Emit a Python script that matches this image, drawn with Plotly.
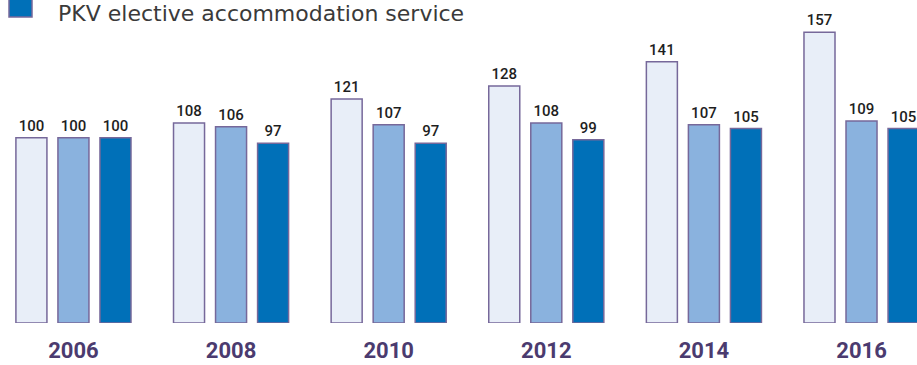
import plotly.graph_objects as go

# Index values (2006 = 100) per year for the three series
years = ["2006", "2008", "2010", "2012", "2014", "2016"]
series_a = [100, 108, 121, 128, 141, 157]
series_b = [100, 106, 107, 108, 107, 109]
series_c = [100, 97, 97, 99, 105, 105]
series_c_name = "PKV elective accommodation service"

fills = ["#e8eef8", "#8ab2de", "#0070b8"]
outline = "#76689a"

W, H = 917, 365
M_TOP, M_BOTTOM = 20, 42

fig = go.Figure()
for vals, fill, name in zip([series_a, series_b, series_c], fills,
                            ["Series A", "Series B", series_c_name]):
    fig.add_trace(go.Bar(
        x=years, y=vals, name=name,
        marker=dict(color=fill, line=dict(color=outline, width=1.5)),
        text=[str(v) for v in vals], textposition="outside",
        constraintext="none",
        textfont=dict(family="Roboto", size=15, color="#1e1e1e",
                      weight=500),
        cliponaxis=False, showlegend=False,
    ))


def py(p):
    # pixel row -> paper y
    return (H - M_BOTTOM - p) / (H - M_TOP - M_BOTTOM)


# Legend key for the dark series
fig.add_shape(type="rect", xref="paper", yref="paper",
              x0=9 / W, x1=32 / W, y0=py(17), y1=py(-6),
              fillcolor=fills[2], line=dict(color=outline, width=1.5))
fig.add_annotation(xref="paper", yref="paper", x=56 / W, y=py(14),
                   xanchor="left", yanchor="middle", showarrow=False,
                   text=series_c_name,
                   font=dict(family="DejaVu Sans", size=22, color="#3a3a3a"))

fig.update_layout(
    width=W, height=H,
    margin=dict(l=0, r=0, t=M_TOP, b=M_BOTTOM),
    paper_bgcolor="white", plot_bgcolor="white",
    barmode="group", bargap=0.2, bargroupgap=0.262,
    xaxis=dict(range=[-0.466, 5.352], showline=False, showgrid=False,
               zeroline=False, ticks="", ticklabelstandoff=12,
               tickfont=dict(family="Roboto", size=22, color="#4b3b6f",
                             weight="bold")),
    yaxis=dict(range=[0, 163.6], visible=False, showgrid=False),
)

fig.write_html("out.html")
